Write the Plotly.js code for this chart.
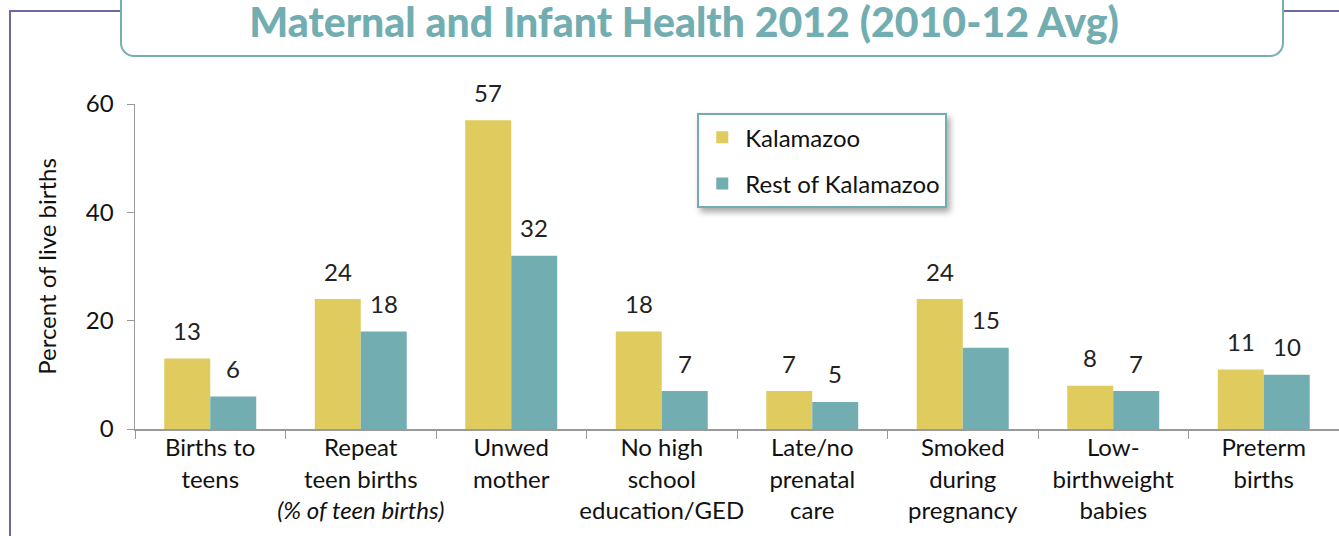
<!DOCTYPE html>
<html>
<head>
<meta charset="utf-8">
<script src="https://cdn.plot.ly/plotly-3.0.1.min.js"></script>
<style>
  html, body { margin: 0; padding: 0; background: #ffffff; }
  #wrap { position: relative; width: 1339px; height: 536px; overflow: hidden; }
  #chart { position: absolute; left: 0; top: 0; width: 1339px; height: 536px; z-index: 2; }
  .deco { position: absolute; z-index: 1; }
  .legend .bg { filter: drop-shadow(3px 4px 3px rgba(0,0,0,0.35)); }
</style>
</head>
<body>
<div id="wrap">
  <div class="deco" style="left:10px; top:10px; width:111px; height:2px; background:#6b68a6;"></div>
  <div class="deco" style="left:9px; top:10px; width:2px; height:540px; background:#6b68a6;"></div>
  <div class="deco" style="left:1283px; top:10px; width:60px; height:2px; background:#6b68a6;"></div>
  <div class="deco" style="left:120px; top:-30px; width:1160px; height:83px; border:2px solid #74b0b2; border-radius:14px; background:#ffffff;"></div>
  <div id="chart"></div>
</div>
<script>
const categories = ["Births to teens", "Repeat teen births", "Unwed mother", "No high school education/GED",
                    "Late/no prenatal care", "Smoked during pregnancy", "Low-birthweight babies", "Preterm births"];
const tickLabels = ["Births to<br>teens",
                    "Repeat<br>teen births<br><i>(% of teen births)</i>",
                    "Unwed<br>mother",
                    "No high<br>school<br>education/GED",
                    "Late/no<br>prenatal<br>care",
                    "Smoked<br>during<br>pregnancy",
                    "Low-<br>birthweight<br>babies",
                    "Preterm<br>births"];
const kalamazoo = [13, 24, 57, 18, 7, 24, 8, 11];
const restOfKalamazoo = [6, 18, 32, 7, 5, 15, 7, 10];
const yTicks = [0, 20, 40, 60];

const YELLOW = "#e0cb5e";
const TEAL = "#72aeb1";
const FONT = "Lato, 'Open Sans', sans-serif";
const FS = 24;

const traces = [
  { type: "bar", name: "Kalamazoo", x: categories, y: kalamazoo, marker: { color: YELLOW },
    legendgroup: "a", hoverinfo: "y" },
  { type: "bar", name: "Rest of Kalamazoo", x: categories, y: restOfKalamazoo, marker: { color: TEAL },
    legendgroup: "b", hoverinfo: "y" }
];

const annotations = [];
categories.forEach((c, i) => {
  annotations.push({ x: c, y: kalamazoo[i], xref: "x", yref: "y", text: String(kalamazoo[i]),
    showarrow: false, xshift: -23, yshift: 28, yanchor: "middle",
    font: { family: FONT, size: FS, color: "#222222" } });
  annotations.push({ x: c, y: restOfKalamazoo[i], xref: "x", yref: "y", text: String(restOfKalamazoo[i]),
    showarrow: false, xshift: 23, yshift: 28, yanchor: "middle",
    font: { family: FONT, size: FS, color: "#222222" } });
});

const layout = {
  width: 1339, height: 536,
  paper_bgcolor: "rgba(0,0,0,0)", plot_bgcolor: "rgba(0,0,0,0)",
  margin: { l: 135, r: 0, t: 104, b: 107 },
  font: { family: FONT, size: FS, color: "#111111" },
  title: { text: "Maternal and Infant Health 2012 (2010-12 Avg)",
    font: { family: FONT, size: 41, color: "#72aeb1", weight: 900 },
    x: 0.456, xref: "paper", xanchor: "center", y: 0.958, yref: "container", yanchor: "middle" },
  barmode: "group", bargap: 0.389, bargroupgap: 0,
  xaxis: {
    type: "category", tickmode: "array", tickvals: categories, ticktext: tickLabels,
    tickson: "boundaries", ticks: "outside", ticklen: 8, tickcolor: "#9a9a9a", tickwidth: 1,
    showline: true, linecolor: "#9a9a9a", linewidth: 1.5, showgrid: false, zeroline: false,
    ticklabelstandoff: -3,
    tickfont: { family: FONT, size: FS, color: "#111111" }, tickangle: 0, automargin: false
  },
  yaxis: {
    range: [0, 60], tickmode: "array", tickvals: yTicks, ticks: "outside", ticklen: 7,
    tickcolor: "#9a9a9a", showline: true, linecolor: "#9a9a9a", linewidth: 1.5,
    showgrid: false, zeroline: false, ticklabelstandoff: 8,
    tickfont: { family: FONT, size: FS, color: "#111111" },
    title: { text: "Percent of live births", font: { family: FONT, size: FS, color: "#111111" }, standoff: 22 },
    automargin: false
  },
  legend: {
    x: 0.467, y: 0.972, xanchor: "left", yanchor: "top",
    bgcolor: "#ffffff", bordercolor: "#72aeb1", borderwidth: 2,
    font: { family: FONT, size: FS, color: "#111111" },
    traceorder: "grouped", tracegroupgap: 12,
    itemwidth: 36, entrywidth: 220, entrywidthmode: "pixels"
  },
  annotations: annotations,
  showlegend: true
};

Plotly.newPlot("chart", traces, layout, { displayModeBar: false, staticPlot: true });
</script>
</body>
</html>
